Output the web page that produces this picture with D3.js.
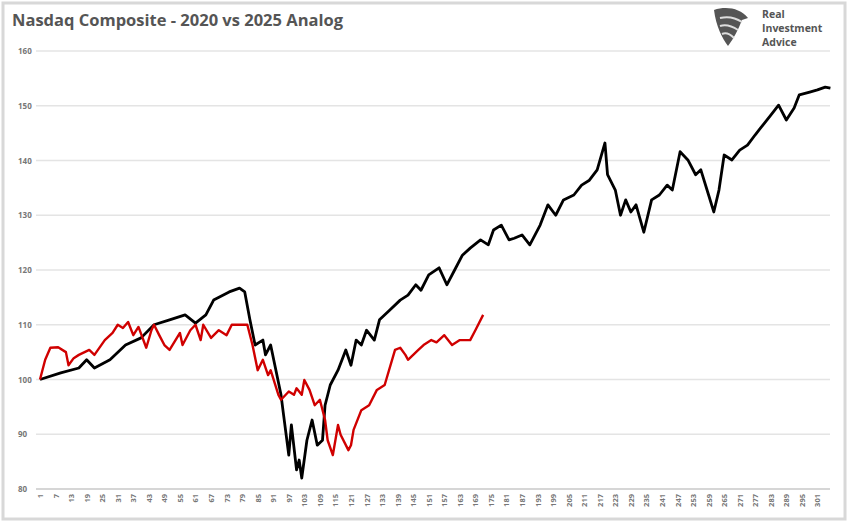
<!DOCTYPE html>
<html><head><meta charset="utf-8">
<script src="https://cdn.jsdelivr.net/npm/d3@7"></script>
<style>body{margin:0;background:#fff}svg{display:block;font-family:"Open Sans",Arial,sans-serif}</style>
</head><body><svg></svg>
<script>
// 2020 path (black), by week index
var blackWeeks = [1,9,16,19,22,28,34,40,45,51,57,61,65,68,74,78,80,82,84,87,88,90,94,95,97,98,100,101,102,104,106,108,110,111,113,116,119,121,123,125,127,130,132,136,140,143,146,148,151,155,158,161,164,167,171,174,176,179,182,184,187,190,194,197,200,203,207,210,213,216,219,220,223,225,227,229,231,234,237,240,243,245,248,251,254,256,259,261,263,265,268,271,274,277,279,283,286,289,292,294,298,301,304,306];
var blackValues = [100,101.2,102.1,103.6,102.1,103.6,106.3,107.6,110,110.9,111.8,110.3,111.8,114.5,116,116.7,116,110.9,106.3,107.2,104.5,106.3,97.2,93.5,86.2,91.7,83.5,85.3,82,88.9,92.6,88,88.9,95.3,99,101.7,105.4,102.6,107.2,106.3,109,107.2,110.9,112.7,114.5,115.4,117.3,116.3,119.1,120.4,117.3,120,122.7,124,125.5,124.6,127.3,128.2,125.5,125.8,126.4,124.6,128.2,131.9,130,132.8,133.7,135.5,136.4,138.3,143.2,137.4,134.6,130,132.8,130.6,131.9,126.9,132.8,133.7,135.5,134.6,141.6,140.1,137.4,138.3,133.7,130.6,134.6,141,140.1,141.9,142.8,144.7,145.9,148.3,150.1,147.4,149.6,152,152.5,152.9,153.4,153.2];
// 2025 path (red)
var redWeeks = [1,3,5,8,11,12,14,16,20,22,26,29,31,33,35,37,39,42,44,45,47,49,51,55,56,59,61,63,64,67,70,73,75,78,81,83,85,87,89,90,93,94,97,99,100,102,103,105,107,109,111,112,114,116,117,120,121,122,125,128,131,134,138,140,142,143,147,149,152,154,157,160,163,167,169,172];
var redValues = [100,103.6,105.8,105.9,105,102.6,103.9,104.5,105.4,104.5,107.2,108.5,110,109.4,110.5,108.1,109.6,105.8,109,110,108.1,106.3,105.4,108.5,106.3,109,110,107.2,110,107.6,109,108.1,110,110,110,106.3,101.7,103.6,100.8,101.7,97.2,96.3,97.8,97.2,98.4,97.2,99.9,98.1,95.3,96.3,92.6,88.9,86.2,91.7,89.9,87.1,88,90.8,94.4,95.3,98.1,99,105.4,105.8,104.5,103.6,105.4,106.3,107.2,106.8,108.1,106.3,107.2,107.2,109,111.8];
var yTicks = [80,90,100,110,120,130,140,150,160];
var xTicks = d3.range(1, 302, 6);

var W = 848, H = 522;
var svg = d3.select('svg').attr('width', W).attr('height', H);
svg.append('rect').attr('x', 3).attr('y', 3).attr('width', W - 6).attr('height', H - 6)
  .attr('fill', '#fff').attr('stroke', '#d8d8d8').attr('stroke-width', 3);

var x = d3.scaleLinear().domain([1, 307]).range([40, 833]);
var y = d3.scaleLinear().domain([80, 160]).range([489, 51]);

var g = svg.append('g');
g.selectAll('.grid').data(yTicks).join('line')
  .attr('x1', 36).attr('x2', 830)
  .attr('y1', d => y(d)).attr('y2', d => y(d))
  .attr('stroke', d => d === 80 ? '#c8c8c8' : '#e4e4e4').attr('stroke-width', 1.3);

g.selectAll('.yl').data(yTicks).join('text')
  .attr('x', 18).attr('y', d => y(d) + 3).text(d => d)
  .attr('font-size', 8).attr('font-weight', 'bold').attr('fill', '#777');

g.selectAll('.xl').data(xTicks).join('text')
  .attr('transform', d => 'translate(' + (x(d) + 3) + ',494) rotate(-90)')
  .attr('text-anchor', 'end').text(d => d)
  .attr('font-size', 7.5).attr('font-weight', 'bold').attr('fill', '#777');

var line = d3.line().x(d => x(d[0])).y(d => y(d[1])).curve(d3.curveLinear);
g.append('path').datum(blackWeeks.map((w, i) => [w, blackValues[i]]))
  .attr('d', line).attr('fill', 'none').attr('stroke', '#000').attr('stroke-width', 2.8).attr('stroke-linejoin', 'round');
g.append('path').datum(redWeeks.map((w, i) => [w, redValues[i]]))
  .attr('d', line).attr('fill', 'none').attr('stroke', '#d00000').attr('stroke-width', 2.4).attr('stroke-linejoin', 'round');

svg.append('text').attr('x', 12).attr('y', 26).text('Nasdaq Composite - 2020 vs 2025 Analog')
  .attr('font-size', 16.5).attr('font-weight', 'bold').attr('fill', '#555');

// logo
var lg = svg.append('g').attr('transform', 'translate(712,8)');
lg.append('path').attr('d', 'M2,2 C14,-2 28,0 36,10 L30,12 C26,22 22,30 16,38 C10,30 4,18 2,2 Z')
  .attr('fill', '#555');
lg.append('path').attr('d', 'M8,10 C16,8 24,10 30,14 M8,18 C14,16 20,18 26,22 M10,26 C14,24 18,26 22,30')
  .attr('stroke', '#ddd').attr('stroke-width', 2).attr('fill', 'none');
['Real', 'Investment', 'Advice'].forEach(function (t, i) {
  lg.append('text').attr('x', 50).attr('y', 10 + i * 14).text(t)
    .attr('font-size', 10.5).attr('font-weight', 'bold').attr('fill', '#555');
});
</script></body></html>
